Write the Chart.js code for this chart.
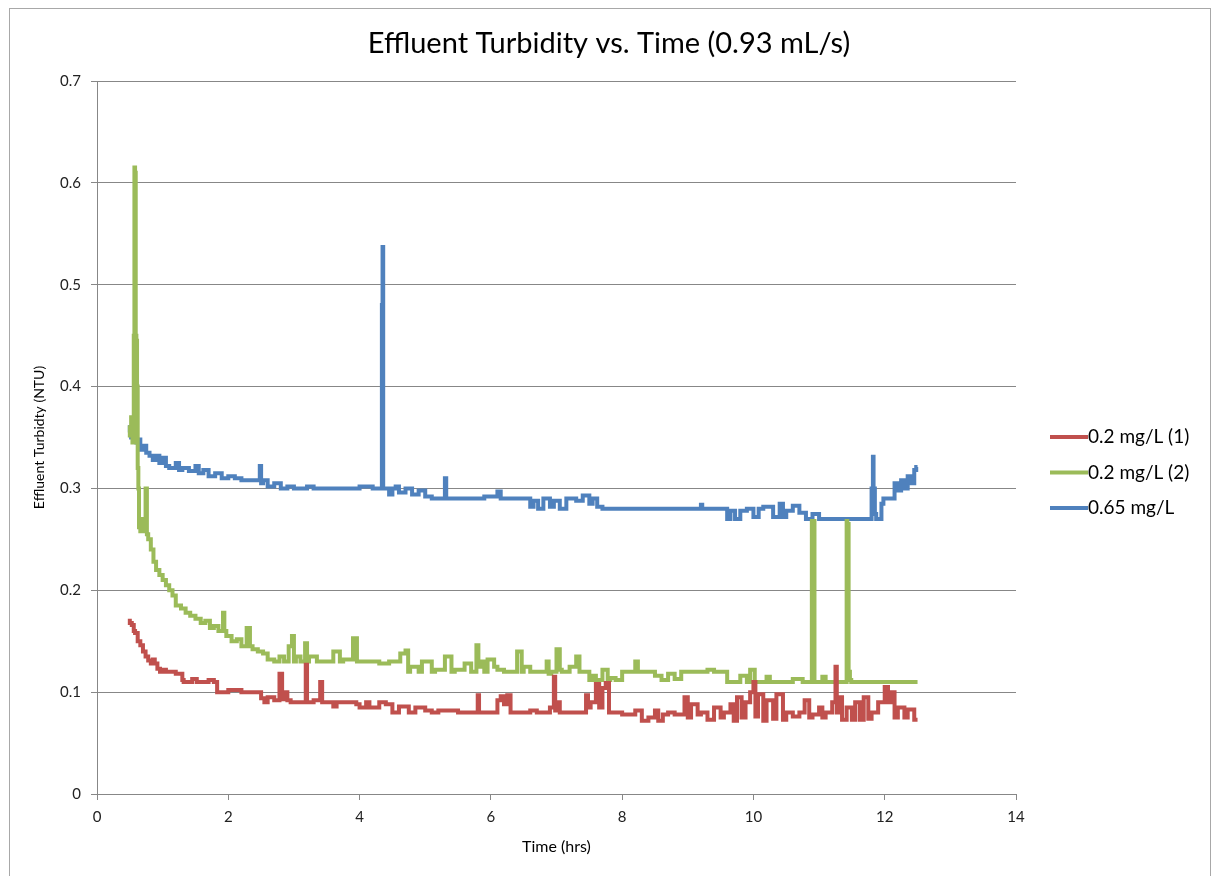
<!DOCTYPE html>
<html>
<head>
<meta charset="utf-8">
<script src="https://cdn.jsdelivr.net/npm/chart.js@4"></script>
<style>
  body { margin: 0; background: #fff; }
  #frame { position: absolute; left: 9px; top: 8px; width: 1200px; height: 900px; border: 1px solid #a8a8a8; }
  #chart { position: absolute; left: 0; top: 0; }
</style>
</head>
<body>
<div id="frame"></div>
<canvas id="chart" width="1217" height="876"></canvas>
<script>
// time (hrs) and effluent turbidity (NTU)
const redTime = [0.50,0.53,0.56,0.58,0.62,0.66,0.70,0.74,0.78,0.82,0.85,0.88,0.92,0.96,1.00,1.05,1.10,1.20,1.30,1.32,1.45,1.52,1.58,1.70,1.78,1.83,1.85,2.00,2.20,2.30,2.50,2.55,2.60,2.70,2.78,2.82,2.86,2.90,2.95,3.00,3.10,3.18,3.20,3.23,3.30,3.40,3.43,3.46,3.60,3.65,3.80,3.95,4.00,4.10,4.15,4.30,4.40,4.50,4.60,4.75,4.85,5.00,5.10,5.20,5.50,5.80,5.82,5.85,6.10,6.15,6.20,6.25,6.30,6.35,6.60,6.70,6.90,6.96,6.98,7.01,7.05,7.10,7.30,7.45,7.48,7.52,7.60,7.65,7.70,7.75,7.80,7.83,8.00,8.20,8.30,8.40,8.50,8.55,8.62,8.70,8.80,8.95,9.00,9.05,9.15,9.20,9.30,9.40,9.50,9.55,9.65,9.70,9.75,9.82,9.88,9.95,10.00,10.03,10.07,10.15,10.20,10.30,10.35,10.45,10.50,10.60,10.70,10.78,10.85,10.90,11.00,11.05,11.10,11.20,11.25,11.27,11.30,11.35,11.42,11.50,11.55,11.62,11.68,11.75,11.80,11.90,12.00,12.05,12.10,12.15,12.20,12.30,12.35,12.45,12.50];
const redNTU = [0.172,0.168,0.166,0.160,0.158,0.150,0.146,0.140,0.135,0.131,0.128,0.132,0.128,0.123,0.120,0.122,0.120,0.120,0.118,0.112,0.110,0.113,0.110,0.110,0.112,0.110,0.100,0.100,0.102,0.100,0.100,0.094,0.090,0.095,0.092,0.118,0.093,0.100,0.092,0.090,0.090,0.090,0.127,0.090,0.090,0.092,0.110,0.090,0.090,0.086,0.090,0.090,0.088,0.085,0.090,0.085,0.090,0.088,0.080,0.086,0.080,0.085,0.082,0.080,0.082,0.080,0.097,0.080,0.080,0.092,0.096,0.088,0.097,0.080,0.080,0.082,0.080,0.085,0.115,0.082,0.090,0.080,0.080,0.080,0.097,0.085,0.090,0.108,0.085,0.104,0.109,0.080,0.080,0.078,0.082,0.072,0.075,0.082,0.072,0.078,0.080,0.078,0.095,0.075,0.088,0.078,0.080,0.073,0.085,0.075,0.080,0.088,0.072,0.095,0.075,0.090,0.100,0.110,0.076,0.098,0.072,0.092,0.074,0.098,0.073,0.080,0.076,0.080,0.092,0.075,0.078,0.085,0.075,0.080,0.090,0.125,0.080,0.095,0.073,0.085,0.073,0.090,0.073,0.095,0.074,0.080,0.090,0.105,0.090,0.100,0.075,0.085,0.075,0.083,0.073];

const greenTime = [0.50,0.52,0.54,0.56,0.57,0.58,0.59,0.60,0.61,0.62,0.63,0.64,0.66,0.70,0.74,0.76,0.78,0.82,0.86,0.90,0.95,1.00,1.05,1.10,1.15,1.20,1.28,1.35,1.42,1.50,1.58,1.65,1.72,1.78,1.85,1.92,1.94,1.97,2.05,2.13,2.20,2.28,2.33,2.37,2.45,2.53,2.60,2.70,2.78,2.85,2.92,2.97,3.00,3.03,3.10,3.17,3.20,3.23,3.35,3.45,3.60,3.70,3.75,3.90,3.96,3.99,4.10,4.30,4.45,4.50,4.62,4.70,4.74,4.77,4.90,4.95,5.10,5.15,5.30,5.40,5.45,5.60,5.70,5.78,5.81,5.84,5.90,5.95,6.05,6.10,6.20,6.30,6.40,6.47,6.50,6.60,6.70,6.85,6.88,6.92,7.00,7.05,7.08,7.20,7.30,7.35,7.40,7.50,7.55,7.60,7.70,7.78,7.82,7.90,8.00,8.05,8.20,8.24,8.28,8.50,8.60,8.70,8.80,8.90,9.00,9.30,9.40,9.50,9.60,9.65,9.80,9.90,9.95,10.02,10.06,10.20,10.25,10.30,10.50,10.60,10.75,10.80,10.89,10.90,10.93,10.94,11.05,11.10,11.13,11.42,11.43,11.45,11.47,11.49,11.60,12.00,12.50];
const greenNTU = [0.350,0.360,0.370,0.345,0.450,0.615,0.610,0.450,0.445,0.400,0.320,0.300,0.262,0.258,0.270,0.300,0.255,0.250,0.240,0.228,0.220,0.215,0.210,0.205,0.200,0.195,0.185,0.182,0.178,0.175,0.172,0.168,0.170,0.163,0.165,0.160,0.178,0.160,0.155,0.150,0.152,0.145,0.163,0.145,0.142,0.140,0.138,0.132,0.130,0.135,0.130,0.145,0.155,0.130,0.135,0.130,0.148,0.130,0.135,0.130,0.130,0.140,0.130,0.132,0.153,0.130,0.130,0.130,0.128,0.130,0.130,0.138,0.141,0.120,0.125,0.120,0.130,0.120,0.122,0.135,0.120,0.122,0.128,0.120,0.146,0.125,0.130,0.120,0.132,0.125,0.122,0.120,0.120,0.140,0.120,0.125,0.120,0.120,0.130,0.118,0.120,0.142,0.122,0.120,0.125,0.135,0.120,0.120,0.112,0.116,0.112,0.122,0.112,0.114,0.112,0.120,0.120,0.130,0.120,0.120,0.116,0.112,0.118,0.113,0.120,0.120,0.122,0.120,0.120,0.110,0.110,0.116,0.110,0.122,0.110,0.110,0.115,0.110,0.110,0.110,0.113,0.110,0.110,0.268,0.268,0.110,0.110,0.115,0.110,0.110,0.268,0.265,0.120,0.112,0.110,0.110,0.110];

const blueTime = [0.50,0.52,0.55,0.58,0.60,0.63,0.66,0.70,0.75,0.80,0.85,0.90,0.95,1.00,1.05,1.10,1.20,1.25,1.30,1.40,1.50,1.55,1.62,1.70,1.80,1.90,2.00,2.10,2.20,2.35,2.48,2.50,2.53,2.60,2.70,2.80,2.90,3.00,3.10,3.20,3.30,3.40,3.60,3.80,4.00,4.20,4.30,4.34,4.35,4.36,4.38,4.45,4.50,4.55,4.60,4.70,4.80,4.90,5.00,5.10,5.17,5.30,5.32,5.35,5.50,5.70,5.90,6.10,6.15,6.20,6.40,6.60,6.65,6.72,6.80,6.90,6.96,7.05,7.15,7.30,7.40,7.50,7.55,7.62,7.70,7.75,8.00,8.50,9.00,9.20,9.22,9.25,9.50,9.60,9.65,9.72,9.80,9.90,10.00,10.08,10.15,10.30,10.40,10.45,10.50,10.60,10.70,10.80,10.90,11.00,11.10,11.30,11.80,11.82,11.83,11.85,11.87,11.95,11.98,12.05,12.15,12.20,12.25,12.30,12.35,12.40,12.45,12.48,12.50];
const blueNTU = [0.355,0.360,0.350,0.362,0.350,0.345,0.348,0.338,0.342,0.335,0.332,0.328,0.332,0.325,0.330,0.322,0.320,0.325,0.318,0.320,0.317,0.322,0.315,0.318,0.312,0.315,0.310,0.312,0.310,0.308,0.308,0.322,0.305,0.308,0.302,0.305,0.300,0.302,0.300,0.300,0.302,0.300,0.300,0.300,0.300,0.302,0.300,0.300,0.480,0.537,0.300,0.300,0.294,0.300,0.302,0.296,0.300,0.294,0.298,0.292,0.290,0.290,0.310,0.290,0.290,0.290,0.290,0.292,0.297,0.290,0.290,0.290,0.282,0.288,0.280,0.290,0.282,0.288,0.280,0.290,0.288,0.293,0.285,0.290,0.282,0.280,0.280,0.280,0.280,0.280,0.284,0.280,0.280,0.280,0.270,0.278,0.270,0.278,0.280,0.272,0.280,0.282,0.272,0.285,0.272,0.278,0.283,0.276,0.270,0.275,0.270,0.270,0.270,0.300,0.331,0.300,0.275,0.270,0.285,0.290,0.290,0.305,0.298,0.308,0.300,0.312,0.305,0.318,0.321];

const seriesNames = ['0.2 mg/L (1)', '0.2 mg/L (2)', '0.65 mg/L'];
const seriesColors = ['#c0504d', '#9bbb59', '#4f81bd'];
const yTicks = [0, 0.1, 0.2, 0.3, 0.4, 0.5, 0.6, 0.7];
const xTicks = [0, 2, 4, 6, 8, 10, 12, 14];

const FONT = 'Lato, "Liberation Sans", sans-serif';
const pts = (t, v) => t.map((x, i) => ({ x: x, y: v[i] }));

const makeSet = (i, t, v) => ({
  label: seriesNames[i],
  data: pts(t, v),
  borderColor: seriesColors[i],
  borderWidth: 4,
  pointRadius: 0,
  stepped: 'after',
  fill: false
});

// title and right-hand legend, placed like the Excel original
const decor = {
  id: 'decor',
  afterDraw(chart) {
    const ctx = chart.ctx;
    ctx.save();
    ctx.fillStyle = '#000';
    ctx.font = '29px ' + FONT;
    ctx.textAlign = 'center';
    ctx.textBaseline = 'middle';
    ctx.fillText('Effluent Turbidity vs. Time (0.93 mL/s)', 609, 44);

    ctx.font = '19px ' + FONT;
    ctx.textAlign = 'left';
    chart.data.datasets.forEach((ds, i) => {
      const y = 437 + i * 35.5;
      ctx.strokeStyle = ds.borderColor;
      ctx.lineWidth = 4;
      ctx.beginPath();
      ctx.moveTo(1050, y);
      ctx.lineTo(1088, y);
      ctx.stroke();
      ctx.fillText(ds.label, 1088, y);
    });
    ctx.restore();
  }
};

new Chart(document.getElementById('chart'), {
  type: 'line',
  data: {
    datasets: [
      makeSet(0, redTime, redNTU),
      makeSet(1, greenTime, greenNTU),
      makeSet(2, blueTime, blueNTU)
    ]
  },
  options: {
    responsive: false,
    animation: false,
    devicePixelRatio: 1,
    layout: { padding: { left: 0, top: 81, right: 201, bottom: 0 } },
    plugins: {
      legend: { display: false },
      title: { display: false },
      tooltip: { enabled: false }
    },
    scales: {
      x: {
        type: 'linear',
        min: 0,
        max: 14,
        afterFit: (s) => { s.height = 82; },
        afterBuildTicks: (s) => { s.ticks = xTicks.map(v => ({ value: v })); },
        ticks: { font: { family: FONT, size: 15 }, color: '#222', padding: 8, maxRotation: 0 },
        grid: { drawOnChartArea: false, tickLength: 6, color: '#878787' },
        border: { color: '#878787' },
        title: { display: true, text: 'Time (hrs)', font: { family: FONT, size: 16 }, color: '#000', padding: { bottom: 20 } }
      },
      y: {
        min: 0,
        max: 0.7,
        afterFit: (s) => { s.width = 97; },
        afterBuildTicks: (s) => { s.ticks = yTicks.map(v => ({ value: v })); },
        ticks: { font: { family: FONT, size: 15 }, color: '#222', padding: 10 },
        grid: { tickLength: 6, color: '#878787' },
        border: { color: '#878787' },
        title: { display: true, text: 'Effluent Turbidty (NTU)', font: { family: FONT, size: 14 }, color: '#000', padding: { top: 31 } }
      }
    }
  },
  plugins: [decor]
});
</script>
</body>
</html>
